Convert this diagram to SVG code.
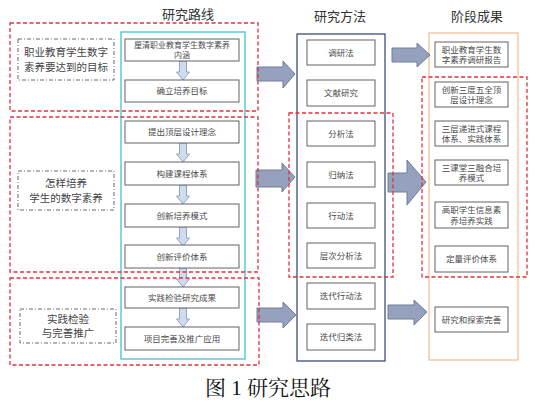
<svg xmlns="http://www.w3.org/2000/svg" xmlns:xlink="http://www.w3.org/1999/xlink" width="536" height="404" viewBox="0 0 536 404">
<style>
text{font-family:"Noto Sans CJK SC","Liberation Sans",sans-serif;text-anchor:middle;fill:#4a4a4a}
.h{font-size:13px;fill:#333}
.n rect{fill:#fff;stroke:#5f6368;stroke-width:1}
.n text{font-size:8.5px}
.n text.s{font-size:8px}
.q rect{fill:none;stroke:#6a6a6a;stroke-width:1;stroke-dasharray:4 2 1 2}
.q text{font-size:10.5px;fill:#444}
.red{fill:none;stroke:#e0323c;stroke-width:1.3;stroke-dasharray:4 2.5}
.big{fill:#95a1bd;stroke:#6e7d9c;stroke-width:1}
.dn{fill:#cfdcee;stroke:#7d92b4;stroke-width:0.8}
.cap{font-family:"Liberation Serif","Noto Serif CJK SC","Noto Sans CJK SC",serif;font-size:21px;fill:#111}
</style>
<defs>
<path id="da" d="M-3.5,0 h7 v11 h3 l-6.5,8 l-6.5,-8 h3 z"/>
</defs>
<rect width="536" height="404" fill="#fff"/>
<text class="h" x="188" y="19">研究路线</text>
<text class="h" x="340" y="21">研究方法</text>
<text class="h" x="477" y="21">阶段成果</text>

<g id="containers">
<rect x="121" y="32" width="124" height="327" fill="none" stroke="#45bfd4" stroke-width="1.3"/>
<rect x="297" y="34" width="88" height="327" fill="none" stroke="#3d4f7c" stroke-width="1.3"/>
<rect x="429" y="33" width="89" height="327" fill="none" stroke="#f2bb94" stroke-width="1.2"/>
</g>

<g id="questions">
<g id="q1" class="q"><rect x="18" y="39" width="96" height="41"/><text x="66" y="56">职业教育学生数字</text><text x="66" y="71">素养要达到的目标</text></g>
<g id="q2" class="q"><rect x="18" y="171" width="96" height="39"/><text x="66" y="187">怎样培养</text><text x="66" y="202">学生的数字素养</text></g>
<g id="q3" class="q"><rect x="20" y="309" width="96" height="34"/><text x="68" y="323">实践检验</text><text x="68" y="337">与完善推广</text></g>
</g>

<g id="connectors">
<use href="#da" class="dn" x="183" y="61"/>
<use href="#da" class="dn" x="183" y="143"/>
<use href="#da" class="dn" x="183" y="185"/>
<use href="#da" class="dn" x="183" y="227"/>
<use href="#da" class="dn" x="183" y="268"/>
<use href="#da" class="dn" x="183" y="308"/>
<path class="big" d="M257,67 H283 V61 L295,74 L283,88 V81 H257 Z"/>
<path class="big" d="M392,48 H417 V43 L430,55 L417,67 V62 H392 Z"/>
<path class="big" d="M256,170 H282 V163 L295,177 L282,192 V187 H256 Z"/>
<path class="big" d="M388,173 H407 V160 L426,182 L407,205 V192 H388 Z"/>
<path class="big" d="M257,308 H283 V302 L296,315 L283,328 V322 H257 Z"/>
<path class="big" d="M388,305 H414 V300 L427,312 L414,325 V319 H388 Z"/>
</g>

<g id="route">
<g id="n1" class="n"><rect x="125" y="39" width="114" height="22"/><text class="s" x="182" y="47.8">厘清职业教育学生数字素养</text><text class="s" x="182" y="58.2">内涵</text></g>
<g id="n2" class="n"><rect x="125" y="80" width="114" height="22"/><text x="182" y="94">确立培养目标</text></g>
<g id="n3" class="n"><rect x="125" y="121" width="114" height="22"/><text x="182" y="135">提出顶层设计理念</text></g>
<g id="n4" class="n"><rect x="125" y="162" width="114" height="23"/><text x="182" y="176.5">构建课程体系</text></g>
<g id="n5" class="n"><rect x="125" y="204" width="114" height="23"/><text x="182" y="218.5">创新培养模式</text></g>
<g id="n6" class="n"><rect x="125" y="245" width="114" height="23"/><text x="182" y="259.5">创新评价体系</text></g>
<g id="n7" class="n"><rect x="125" y="287" width="114" height="21"/><text x="182" y="300.5">实践检验研究成果</text></g>
<g id="n8" class="n"><rect x="125" y="327" width="114" height="23"/><text x="182" y="341.5">项目完善及推广应用</text></g>
</g>

<g id="methods">
<g id="m1" class="n"><rect x="307" y="40" width="68" height="25"/><text x="341" y="55.5">调研法</text></g>
<g id="m2" class="n"><rect x="307" y="80" width="68" height="26"/><text x="341" y="96">文献研究</text></g>
<g id="m3" class="n"><rect x="307" y="121" width="68" height="25"/><text x="341" y="136.5">分析法</text></g>
<g id="m4" class="n"><rect x="307" y="162" width="68" height="25"/><text x="341" y="177.5">归纳法</text></g>
<g id="m5" class="n"><rect x="307" y="203" width="68" height="25"/><text x="341" y="218.5">行动法</text></g>
<g id="m6" class="n"><rect x="307" y="243" width="68" height="25"/><text x="341" y="258.5">层次分析法</text></g>
<g id="m7" class="n"><rect x="307" y="283" width="68" height="26"/><text x="341" y="299">迭代行动法</text></g>
<g id="m8" class="n"><rect x="307" y="324" width="68" height="26"/><text x="341" y="340">迭代归类法</text></g>
</g>

<g id="results">
<g id="r1" class="n"><rect x="435" y="42" width="73" height="25"/><text x="471.5" y="52.5">职业教育学生数</text><text x="471.5" y="63">字素养调研报告</text></g>
<g id="r2" class="n"><rect x="435" y="82" width="73" height="25"/><text x="471.5" y="92.5">创新三度五全顶</text><text x="471.5" y="103">层设计理念</text></g>
<g id="r3" class="n"><rect x="435" y="121" width="73" height="25"/><text x="471.5" y="131.5">三层递进式课程</text><text x="471.5" y="142">体系、实践体系</text></g>
<g id="r4" class="n"><rect x="435" y="160" width="73" height="25"/><text x="471.5" y="170.5">三课堂三融合培</text><text x="471.5" y="181">养模式</text></g>
<g id="r5" class="n"><rect x="435" y="202" width="73" height="26"/><text x="471.5" y="213">高职学生信息素</text><text x="471.5" y="223.5">养培养实践</text></g>
<g id="r6" class="n"><rect x="435" y="246" width="73" height="26"/><text x="471.5" y="262">定量评价体系</text></g>
<g id="r7" class="n"><rect x="435" y="307" width="73" height="25"/><text x="471.5" y="322.5">研究和探索完善</text></g>
</g>

<g id="stages">
<rect class="red" x="10" y="23" width="248" height="88"/>
<rect class="red" x="10" y="117" width="248" height="155"/>
<rect class="red" x="10" y="278" width="249" height="87"/>
<rect class="red" x="289" y="113" width="104" height="164"/>
<rect class="red" x="422" y="77" width="105" height="200"/>
</g>

<text class="cap" x="268" y="395">图 1 研究思路</text>
</svg>
